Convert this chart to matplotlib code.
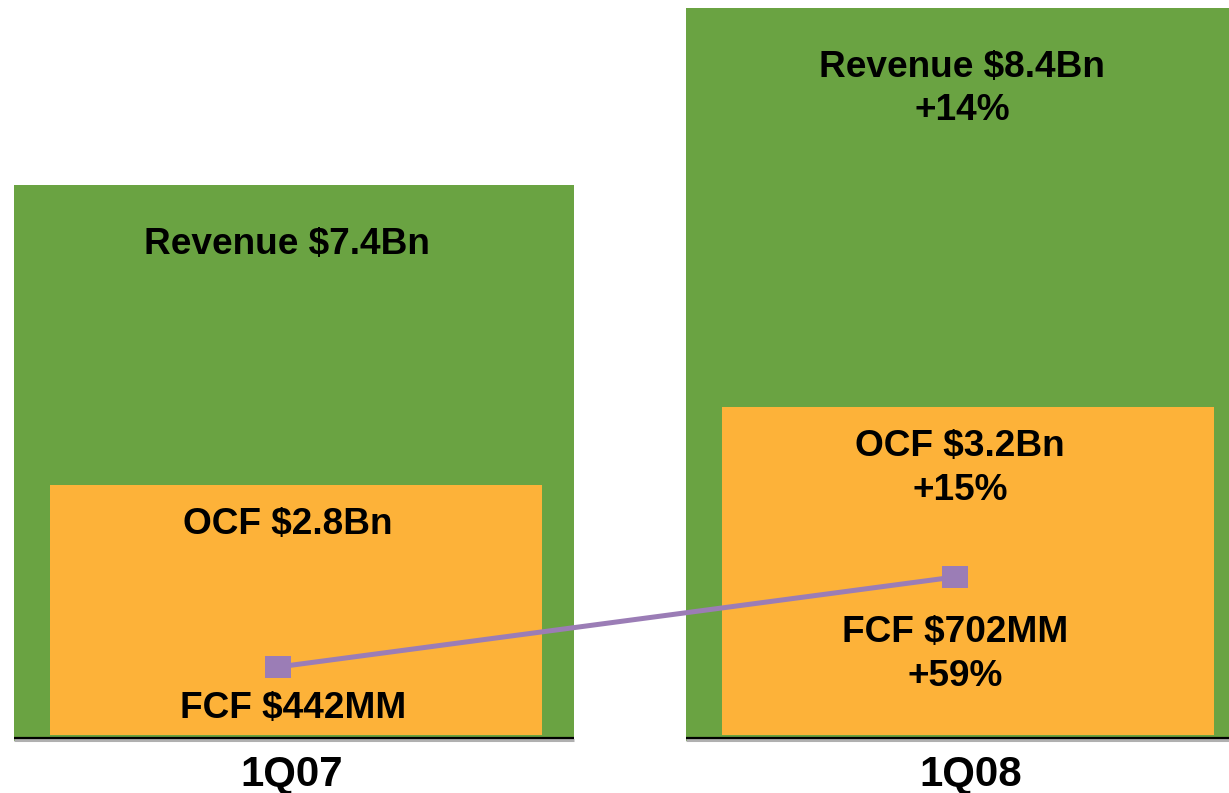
import matplotlib
matplotlib.use("Agg")
import matplotlib.pyplot as plt
import matplotlib.transforms as mtransforms

plt.rcParams['font.family'] = ['Liberation Sans', 'DejaVu Sans']

# ---- data ----
quarters = ["1Q07", "1Q08"]
revenue_bn = [7.4, 8.4]
ocf_bn = [2.8, 3.2]
fcf_mm = [442, 702]
revenue_labels = [["Revenue $7.4Bn"], ["Revenue $8.4Bn", "+14%"]]
ocf_labels = [["OCF $2.8Bn"], ["OCF $3.2Bn", "+15%"]]
fcf_labels = [["FCF $442MM"], ["FCF $702MM", "+59%"]]

# ---- style ----
GREEN = "#6AA342"
ORANGE = "#FDB239"
PURPLE = "#9B7DB6"
PX = 0.72  # points per pixel at dpi 100
FS = 37 * PX
FS_CAT = 42 * PX

W, H = 1229, 793
fig = plt.figure(figsize=(W / 100, H / 100), dpi=100)
fig.patch.set_facecolor("white")

x = list(range(len(quarters)))
xlim = (-294 / 672, (W - 294) / 672)

base_px = 741
ax_rev = fig.add_axes([0, (H - base_px) / H, 1, base_px / H])
ocf_base_px = 735
ax_ocf = fig.add_axes([0, (H - ocf_base_px) / H, 1, ocf_base_px / H])
ax_fcf = fig.add_axes([0, (H - base_px) / H, 1, base_px / H])

for a in (ax_rev, ax_ocf, ax_fcf):
    a.set_xlim(*xlim)
    a.axis("off")
    a.patch.set_alpha(0)

ax_rev.set_ylim(4.259, 8.445)
ax_ocf.set_ylim(1.518, 1.518 + ocf_base_px / 195)
ax_fcf.set_ylim(228.2, 228.2 + base_px / 0.3462)

rev_w = 560 / 672
ocf_w = 492 / 672

ax_rev.bar(x, revenue_bn, width=rev_w, color=GREEN, zorder=1)
trans = mtransforms.blended_transform_factory(ax_rev.transData, ax_rev.transAxes)
for xi in x:
    ax_rev.plot([xi - rev_w / 2, xi + rev_w / 2], [0.002, 0.002], color="#B0B0B0",
                lw=2.2, transform=trans, clip_on=False, solid_capstyle="butt", zorder=2)
    ax_rev.plot([xi - rev_w / 2, xi + rev_w / 2], [0.0035, 0.0035], color="black",
                lw=1.6, transform=trans, clip_on=False, solid_capstyle="butt", zorder=3)

ax_ocf.bar([xi + 2 / 672 for xi in x], ocf_bn, width=ocf_w, color=ORANGE, zorder=1)

fcf_dx = [-16 / 672, -11 / 672]
rect = [(-1, -0.81), (1, -0.81), (1, 0.81), (-1, 0.81), (-1, -0.81)]
ax_fcf.plot([xi + d for xi, d in zip(x, fcf_dx)], fcf_mm, color=PURPLE, lw=5 * PX,
            marker=rect, markersize=26 * PX, markeredgewidth=0, zorder=3)

def put_labels(ax, xs, ys, lines_list, first_off, dxs, step):
    for xi, yi, lines, off, dx in zip(xs, ys, lines_list, first_off, dxs):
        for k, line in enumerate(lines):
            ax.annotate(line, xy=(xi, yi), xytext=(dx * PX, (off - k * step) * PX),
                        textcoords="offset points", ha="center", va="baseline",
                        fontsize=FS, fontweight="bold", color="black",
                        annotation_clip=False, zorder=5)

put_labels(ax_rev, x, revenue_bn, revenue_labels, [-69, -69], [-7, -4], 43)
put_labels(ax_ocf, x, ocf_bn, ocf_labels, [-49, -49], [-6, -6], 44)
put_labels(ax_fcf, [xi + d for xi, d in zip(x, fcf_dx)], fcf_mm, fcf_labels,
           [-51, -65], [15, 0], 44)

cat_dx = [-2, 5]
for xi, q, dx in zip(x, quarters, cat_dx):
    ax_rev.annotate(q, xy=(xi, 0), xycoords=trans, xytext=(dx * PX, -45 * PX),
                    textcoords="offset points", ha="center", va="baseline",
                    fontsize=FS_CAT, fontweight="bold", color="black",
                    annotation_clip=False)

fig.savefig("out.png", dpi=100, facecolor="white")
